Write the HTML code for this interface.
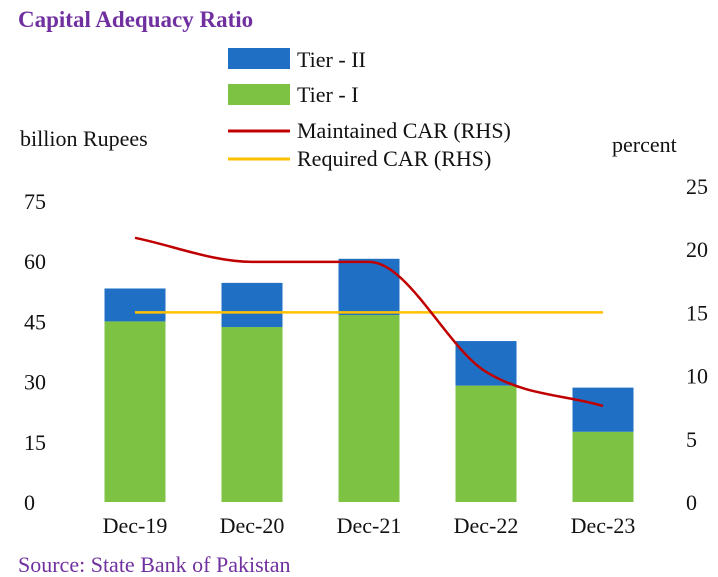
<!DOCTYPE html>
<html><head><meta charset="utf-8"><style>
body{margin:0;background:#fff;}
svg{display:block;font-family:"Liberation Serif",serif;}
</style></head><body>
<svg width="718" height="577" viewBox="0 0 718 577">
<text x="18" y="27" font-size="23" font-weight="bold" fill="#7030a0">Capital Adequacy Ratio</text>
<g>
<rect x="228" y="48" width="62" height="21" fill="#1f6fc5"/>
<text x="297" y="67" font-size="22" fill="#111">Tier - II</text>
<rect x="228" y="84" width="62" height="21" fill="#7dc242"/>
<text x="297" y="102" font-size="22" fill="#111">Tier - I</text>
<line x1="228" y1="131" x2="290" y2="131" stroke="#c00000" stroke-width="3"/>
<text x="297" y="138" font-size="22" fill="#111">Maintained CAR (RHS)</text>
<line x1="228" y1="159" x2="290" y2="159" stroke="#ffc000" stroke-width="3"/>
<text x="297" y="166" font-size="22" fill="#111">Required CAR (RHS)</text>
</g>
<text x="20" y="146" font-size="22" fill="#111">billion Rupees</text>
<text x="612" y="152" font-size="22" fill="#111">percent</text>
<g id="plot"></g>
<text x="18" y="572" font-size="22" fill="#7030a0">Source: State Bank of Pakistan</text>
</svg>
<script>
const categories=["Dec-19","Dec-20","Dec-21","Dec-22","Dec-23"];
const tier1=[45,43.6,46.6,29,17.5];
const tier2=[8.2,11,14,11.1,11];
const maintainedCAR=[20.9,19.0,19.0,10.3,7.6];
const requiredCAR=[15,15,15,15,15];
const leftTicks=[0,15,30,45,60,75];
const rightTicks=[0,5,10,15,20,25];

const NS="http://www.w3.org/2000/svg";
const g=document.getElementById('plot');
const y0=502;
const yL=v=>y0-v*(301/75);
const yR=v=>y0-v*(316/25);
const xC=i=>135+i*117;
const bw=61;
function mk(t,a){const e=document.createElementNS(NS,t);for(const k in a)e.setAttribute(k,a[k]);g.appendChild(e);return e;}
leftTicks.forEach(v=>{const e=mk('text',{x:24,y:yL(v)+8,'font-size':22,fill:'#111'});e.textContent=v;

});
rightTicks.forEach(v=>{const e=mk('text',{x:686,y:yR(v)+8,'font-size':22,fill:'#111'});e.textContent=v;

});
categories.forEach((c,i)=>{
 const a=mk('rect',{x:xC(i)-bw/2,y:yL(tier1[i]),width:bw,height:y0-yL(tier1[i]),fill:'#7dc242'});
 
 
 const b=mk('rect',{x:xC(i)-bw/2,y:yL(tier1[i]+tier2[i]),width:bw,height:yL(tier1[i])-yL(tier1[i]+tier2[i]),fill:'#1f6fc5'});
 
 
 const t=mk('text',{x:xC(i),y:533,'font-size':22,fill:'#111','text-anchor':'middle'});t.textContent=c;
 
 
});
const rq=mk('polyline',{points:requiredCAR.map((v,i)=>xC(i)+','+yR(v)).join(' '),fill:'none',stroke:'#ffc000','stroke-width':2.5});


// monotone cubic
const px=maintainedCAR.map((v,i)=>xC(i)), py=maintainedCAR.map(v=>yR(v));
const n=px.length, dl=[], m=[];
for(let i=0;i<n-1;i++)dl.push((py[i+1]-py[i])/(px[i+1]-px[i]));
m[0]=dl[0];m[n-1]=dl[n-2];
for(let i=1;i<n-1;i++){m[i]=(dl[i-1]*dl[i]<=0)?0:(dl[i-1]+dl[i])/2;}
for(let i=0;i<n-1;i++){if(dl[i]===0){m[i]=0;m[i+1]=0;continue;}const a=m[i]/dl[i],b=m[i+1]/dl[i],s=a*a+b*b;if(s>9){const t=3/Math.sqrt(s);m[i]=t*a*dl[i];m[i+1]=t*b*dl[i];}}
let d='M'+px[0]+','+py[0];
for(let i=0;i<n-1;i++){const h=(px[i+1]-px[i])/3;
 d+=' C'+(px[i]+h)+','+(py[i]+m[i]*h)+' '+(px[i+1]-h)+','+(py[i+1]-m[i+1]*h)+' '+px[i+1]+','+py[i+1];}
const mc=mk('path',{d:d,fill:'none',stroke:'#c00000','stroke-width':2.5});


</script>
</body></html>
